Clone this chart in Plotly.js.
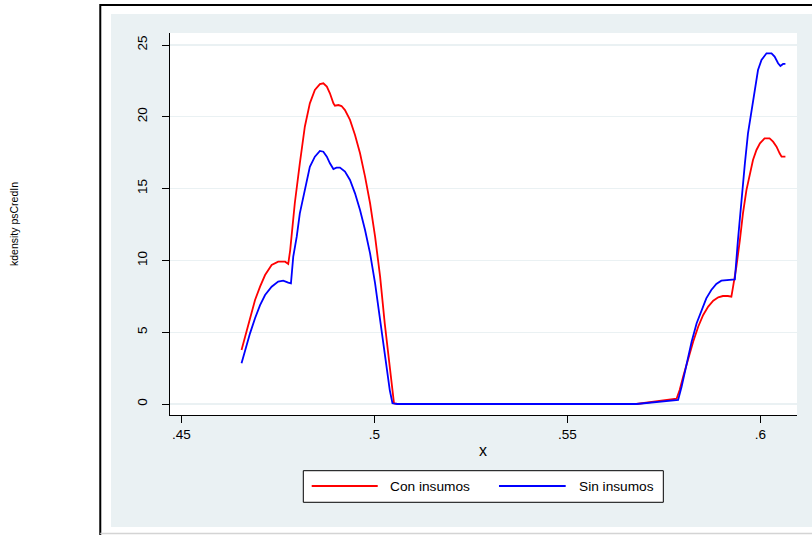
<!DOCTYPE html>
<html>
<head>
<meta charset="utf-8">
<script src="https://cdn.plot.ly/plotly-3.0.1.min.js"></script>
<style>
  html, body { margin: 0; padding: 0; background: #ffffff; }
  #chart { width: 812px; height: 535px; }
</style>
</head>
<body>
<div id="chart"></div>
<script>
// Kernel density of psCredIn, "Con insumos" group
const conX = [0.4656, 0.4665, 0.4678, 0.4691, 0.4704, 0.4717, 0.4734, 0.4751, 0.4769, 0.4777,
  0.4782, 0.4794, 0.4807, 0.4820, 0.4833, 0.4846, 0.4859, 0.4868, 0.4877, 0.4885,
  0.4894, 0.4898, 0.4907, 0.4915, 0.4924, 0.4937, 0.4950, 0.4963, 0.4976, 0.4989,
  0.5002, 0.5015, 0.5027, 0.5040, 0.5051, 0.5060, 0.5679, 0.5783, 0.5791, 0.5800,
  0.5813, 0.5826, 0.5839, 0.5852, 0.5865, 0.5878, 0.5891, 0.5903, 0.5916, 0.5925,
  0.5929, 0.5938, 0.5947, 0.5955, 0.5964, 0.5973, 0.5981, 0.5990, 0.5999, 0.6011,
  0.6024, 0.6033, 0.6042, 0.6050, 0.6055, 0.6065];
const conY = [3.76, 4.69, 6.08, 7.24, 8.17, 8.98, 9.68, 9.91, 9.91, 9.75,
  10.7, 13.98, 16.76, 19.31, 20.94, 21.87, 22.28, 22.33, 22.1, 21.64,
  20.94, 20.77, 20.82, 20.75, 20.47, 19.78, 18.73, 17.46, 15.83, 13.98,
  11.65, 8.87, 5.62, 2.37, 0.05, 0, 0, 0.37, 0.97, 1.90,
  3.18, 4.34, 5.38, 6.20, 6.78, 7.19, 7.43, 7.52, 7.52, 7.47,
  8.10, 9.56, 11.42, 13.28, 14.9, 16.07, 16.99, 17.69, 18.15, 18.5,
  18.5, 18.27, 17.92, 17.46, 17.22, 17.22];

// Kernel density of psCredIn, "Sin insumos" group
const sinX = [0.4656, 0.4665, 0.4678, 0.4691, 0.4704, 0.4717, 0.4734, 0.4751, 0.4764, 0.4777,
  0.4784, 0.4790, 0.4799, 0.4807, 0.4816, 0.4825, 0.4833, 0.4846, 0.4859, 0.4868,
  0.4877, 0.4885, 0.4894, 0.4902, 0.4911, 0.4924, 0.4937, 0.4950, 0.4963, 0.4976,
  0.4989, 0.5002, 0.5015, 0.5027, 0.5040, 0.5047, 0.5060, 0.5679, 0.5787, 0.5796,
  0.5809, 0.5822, 0.5835, 0.5848, 0.5860, 0.5873, 0.5886, 0.5899, 0.5916, 0.5931,
  0.5934, 0.5942, 0.5951, 0.5960, 0.5968, 0.5977, 0.5986, 0.5994, 0.6003, 0.6016,
  0.6029, 0.6037, 0.6046, 0.6052, 0.6059, 0.6065];
const sinY = [2.83, 3.76, 4.92, 5.97, 6.89, 7.59, 8.17, 8.52, 8.59, 8.45,
  8.40, 10.26, 11.65, 13.28, 14.44, 15.6, 16.52, 17.22, 17.62, 17.57,
  17.22, 16.76, 16.36, 16.46, 16.46, 16.18, 15.6, 14.67, 13.51, 12.12,
  10.49, 8.40, 5.85, 3.29, 0.97, 0.05, 0, 0, 0.28, 1.2,
  2.83, 4.34, 5.62, 6.55, 7.36, 7.94, 8.36, 8.59, 8.64, 8.64,
  8.68, 11.42, 14.2, 16.76, 18.85, 20.47, 22.1, 23.26, 23.96, 24.42,
  24.42, 24.19, 23.73, 23.54, 23.68, 23.68];

const xTickVals = [0.45, 0.5, 0.55, 0.6];
const xTickText = ['.45', '.5', '.55', '.6'];
const yTickVals = [0, 5, 10, 15, 20, 25];
const yTickText = ['0', '5', '10', '15', '20', '25'];

const seriesNames = ['Con insumos', 'Sin insumos'];
const seriesColors = ['#ff0000', '#0000ff'];

const FONT = 'Liberation Sans, Arial, sans-serif';
const BG = '#eaf1f3';

const traces = [
  { x: conX, y: conY, type: 'scatter', mode: 'lines', name: seriesNames[0],
    line: { color: seriesColors[0], width: 1.8 }, hoverinfo: 'x+y' },
  { x: sinX, y: sinY, type: 'scatter', mode: 'lines', name: seriesNames[1],
    line: { color: seriesColors[1], width: 1.8 }, hoverinfo: 'x+y' }
];

// Legend box drawn in paper coordinates below the plot
const legendLineY = -0.1859;
const shapes = [
  // outer graph frame
  { type: 'rect', xref: 'paper', yref: 'paper', layer: 'below',
    x0: -0.1112, x1: 1.04, y0: -0.327, y1: 1.0733,
    line: { color: '#000000', width: 2 }, fillcolor: '#ffffff' },
  // graph region background
  { type: 'rect', xref: 'paper', yref: 'paper', layer: 'below',
    x0: -0.0941, x1: 1.04, y0: -0.2932, y1: 1.0497,
    line: { width: 0 }, fillcolor: BG },
  // white plot region
  { type: 'rect', xref: 'paper', yref: 'paper', layer: 'below',
    x0: 0, x1: 1, y0: 0, y1: 1,
    line: { width: 0 }, fillcolor: '#ffffff' },
  { type: 'line', xref: 'paper', yref: 'paper', layer: 'below',
    x0: -0.1112, x1: 1.04, y0: -0.3102, y1: -0.3102,
    line: { color: '#d4d4d4', width: 1.5 } },
  // legend
  { type: 'rect', xref: 'paper', yref: 'paper', layer: 'above',
    x0: 0.2126, x1: 0.7868, y0: -0.2285, y1: -0.1458,
    line: { color: '#000000', width: 1 }, fillcolor: '#ffffff' },
  { type: 'line', xref: 'paper', yref: 'paper', layer: 'above',
    x0: 0.2260, x1: 0.3313, y0: legendLineY, y1: legendLineY,
    line: { color: seriesColors[0], width: 1.8 } },
  { type: 'line', xref: 'paper', yref: 'paper', layer: 'above',
    x0: 0.5247, x1: 0.6311, y0: legendLineY, y1: legendLineY,
    line: { color: seriesColors[1], width: 1.8 } }
];

const annotations = [
  { text: seriesNames[0], xref: 'paper', yref: 'paper', x: 0.3482, y: -0.1872,
    xanchor: 'left', yanchor: 'middle', showarrow: false,
    font: { family: FONT, size: 13.7, color: '#000000' } },
  { text: seriesNames[1], xref: 'paper', yref: 'paper', x: 0.6486, y: -0.1872,
    xanchor: 'left', yanchor: 'middle', showarrow: false,
    font: { family: FONT, size: 13.7, color: '#000000' } },
  { text: 'x', xref: 'paper', yref: 'paper', x: 0.4992, y: -0.0942,
    xanchor: 'center', yanchor: 'middle', showarrow: false,
    font: { family: FONT, size: 16, color: '#000000' } },
  { text: 'kdensity psCredIn', xref: 'paper', yref: 'paper', x: -0.2488, y: 0.5,
    xanchor: 'center', yanchor: 'middle', textangle: -90, showarrow: false,
    font: { family: FONT, size: 10.5, color: '#000000' } }
];

const layout = {
  width: 812, height: 535, autosize: false,
  margin: { l: 170, r: 15, t: 33, b: 120, pad: 0 },
  paper_bgcolor: '#ffffff',
  plot_bgcolor: '#ffffff',
  showlegend: false,
  font: { family: FONT, color: '#000000' },
  xaxis: {
    range: [0.44707, 0.6095], automargin: false,
    tickmode: 'array', tickvals: xTickVals, ticktext: xTickText,
    ticks: 'outside', ticklen: 7, tickwidth: 1, tickcolor: '#000000',
    showline: true, linecolor: '#000000', linewidth: 1,
    showgrid: false, zeroline: false,
    tickfont: { family: FONT, size: 13.5, color: '#000000' }
  },
  yaxis: {
    range: [-0.766, 25.836], automargin: false,
    tickmode: 'array', tickvals: yTickVals, ticktext: yTickText, tickangle: -90,
    ticks: 'outside', ticklen: 7, tickwidth: 1, tickcolor: '#000000',
    ticklabelstandoff: 10,
    showline: true, linecolor: '#000000', linewidth: 1,
    showgrid: true, gridcolor: BG, gridwidth: 1.2, zeroline: false,
    tickfont: { family: FONT, size: 13.5, color: '#000000' }
  },
  shapes: shapes,
  annotations: annotations
};

Plotly.newPlot('chart', traces, layout, { staticPlot: true, displayModeBar: false });
</script>
</body>
</html>
